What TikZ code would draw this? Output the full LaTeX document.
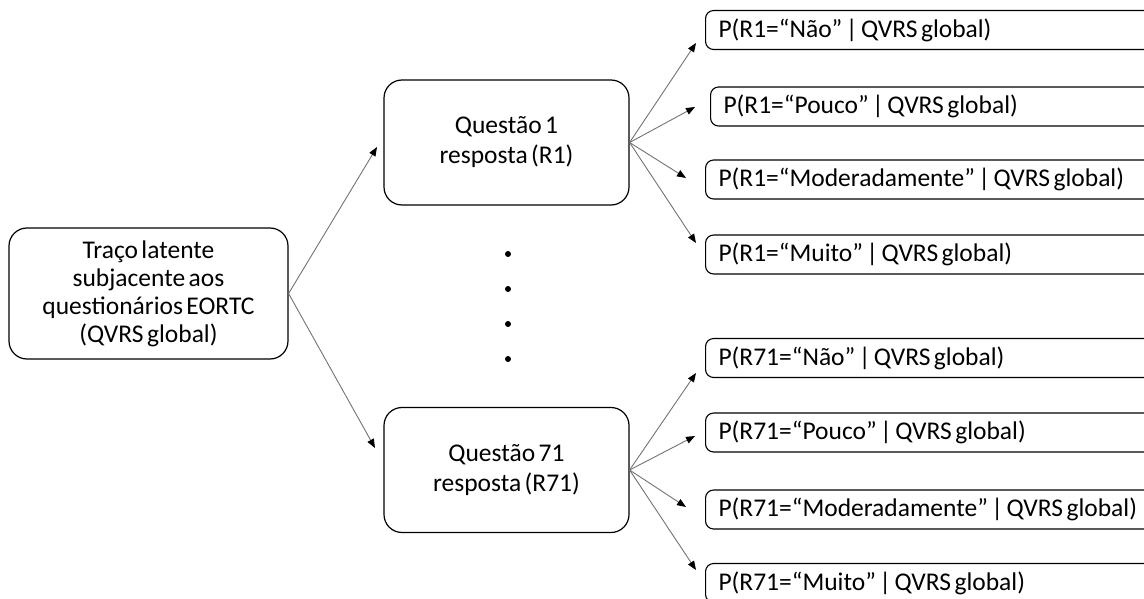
\documentclass[tikz,border=0pt]{standalone}
\usepackage{fontspec}
\setmainfont[WordSpace=0.6]{Carlito}
\usetikzlibrary{arrows.meta}
\begin{document}
\begin{tikzpicture}[x=1pt,y=-1pt,
  bigbox/.style={draw=black, line width=1.2pt, rounded corners=18pt,
    align=center, inner sep=0pt, font=\fontsize{25.5}{28}\selectfont},
  qbox/.style={bigbox, minimum width=245pt, minimum height=125pt,
    font=\fontsize{25.5}{30}\selectfont},
  probbox/.style={draw=black, line width=1.1pt, rounded corners=8pt,
    anchor=west, minimum height=39pt, text width=440pt, inner xsep=13pt,
    inner ysep=0pt, align=left, font=\fontsize{25.5}{28}\selectfont,
    execute at begin node={\spaceskip=0pt\xspaceskip=0pt\relax}},
  link/.style={draw=black!55, line width=0.9pt,
    -{Triangle[length=9pt,width=7pt,color=black]}},
  dot/.style={fill=black}]
\useasboundingbox (0,0) rectangle (1144,599);
\clip (0,0) rectangle (1144,599);

% latent trait and the two questions
\node[bigbox, minimum width=279pt, minimum height=131pt] (lat) at (148.5,293.5)
  {Traço latente\\subjacente aos\\questionários EORTC\\(QVRS global)};
\node[qbox] (q1) at (506.5,142.5) {Questão 1\\resposta (R1)};
\node[qbox] (q71) at (506.5,470) {Questão 71\\resposta (R71)};

% response probabilities
\node[probbox] (a1) at (705,30)    {P(R1=“Não” | QVRS global)};
\node[probbox] (a2) at (710,106.5) {P(R1=“Pouco” | QVRS global)};
\node[probbox] (a3) at (705,179.5) {P(R1=“Moderadamente” | QVRS global)};
\node[probbox] (a4) at (705,254.5) {P(R1=“Muito” | QVRS global)};
\node[probbox] (b1) at (705,358)   {P(R71=“Não” | QVRS global)};
\node[probbox] (b2) at (705,432.5) {P(R71=“Pouco” | QVRS global)};
\node[probbox] (b3) at (705,509.5) {P(R71=“Moderadamente” | QVRS global)};
\node[probbox] (b4) at (705,583)   {P(R71=“Muito” | QVRS global)};

% arrow end points
\coordinate (tq1) at (377,147);
\coordinate (tq71) at (375,448);
\coordinate (ta1) at (696,43);
\coordinate (ta2) at (695,107);
\coordinate (ta3) at (686,178);
\coordinate (ta4) at (696,243);
\coordinate (tb1) at (696,373);
\coordinate (tb2) at (695,436);
\coordinate (tb3) at (686,507);
\coordinate (tb4) at (696,570);

\draw[link] (lat.east) -- (tq1);
\draw[link] (lat.east) -- (tq71);
\foreach \t in {ta1,ta2,ta3,ta4} \draw[link] (q1.east) -- (\t);
\foreach \t in {tb1,tb2,tb3,tb4} \draw[link] (q71.east) -- (\t);

% vertical ellipsis between the questions
\foreach \y in {254,289,324,359} \fill[dot] (508,\y) circle (3pt);
\end{tikzpicture}
\end{document}
